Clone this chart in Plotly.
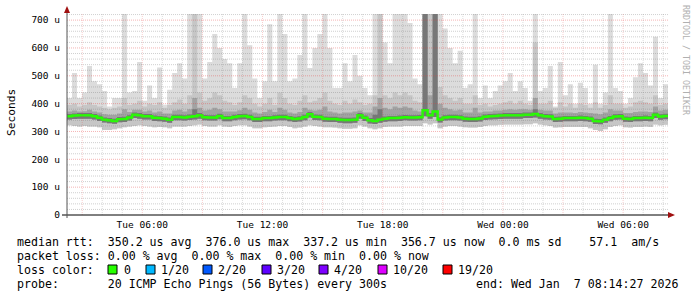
import pandas as pd
import plotly.graph_objects as go

# ---------------- data (microseconds) ----------------
START = "2026-01-06 02:14:27"
END = "2026-01-07 08:14:27"
STEP = "15min"

# max ping (top of lightest smoke)
ping_max = [420,510,420,440,535,480,470,445,390,420,420,800,440,445,550,410,465,420,530,396,450,510,545,490,800,800,800,490,550,650,
            600,560,545,456,545,800,610,490,420,480,685,480,800,650,480,490,575,800,528,600,650,800,600,456,456,545,480,575,500,456,
            430,800,800,620,545,800,800,800,690,490,470,800,800,800,800,670,600,545,590,456,470,800,420,465,420,445,465,480,510,445,
            480,456,410,800,445,456,535,390,550,430,470,400,475,456,400,540,400,440,800,456,445,400,420,495,545,510,465,640,420,470]
# upper quantile (medium smoke)
ping_hi2 = [395,400,390,395,405,395,390,385,380,385,390,420,395,400,410,390,400,395,405,385,395,405,415,400,430,800,440,410,420,440,
            430,410,405,395,405,430,420,400,390,400,420,395,440,420,400,395,410,430,405,410,420,440,410,400,395,410,400,415,405,395,
            400,430,800,430,420,440,430,440,430,410,405,800,800,800,460,430,420,410,420,400,400,430,395,400,390,395,400,405,410,400,
            410,400,395,620,400,400,410,385,405,390,400,385,400,395,385,405,385,395,430,400,400,385,390,405,410,405,400,430,395,400]
# inner upper quantile (dark smoke)
ping_hi3 = [372,375,372,373,378,372,368,362,360,360,365,380,370,378,378,372,375,368,372,365,365,375,378,372,380,420,385,375,378,385,
            380,372,372,372,376,385,378,368,365,370,378,370,385,378,368,365,370,385,378,375,378,390,372,368,365,368,368,372,375,368,
            368,390,420,385,380,390,385,390,385,375,372,800,430,800,400,385,380,375,378,368,368,385,368,372,372,375,375,378,380,378,
            380,380,378,420,378,375,375,365,368,368,368,366,370,368,366,365,362,368,380,375,375,366,366,370,372,372,370,390,375,378]
# core upper quantile (darkest smoke)
ping_hi4 = [363,365,366,366,366,363,357,350,348,346,352,353,358,368,366,363,363,357,356,354,350,360,360,358,361,380,366,359,358,358,
            364,356,356,360,363,364,360,353,353,356,356,358,360,360,356,353,355,360,370,361,360,354,353,353,350,349,349,350,366,357,
            348,360,380,354,356,356,357,359,358,358,359,800,366,800,351,358,360,360,358,354,353,353,355,361,363,364,365,366,366,366,
            366,368,368,380,366,363,362,353,354,356,356,356,357,356,354,346,345,350,356,362,363,354,353,356,356,357,356,368,362,364]
# median rtt
ping_med = [355,357,358,358,358,355,349,342,340,338,344,345,350,360,358,355,355,349,348,346,342,352,352,350,353,355,358,351,350,350,
            356,348,348,352,355,356,352,345,345,348,348,350,352,352,348,345,347,352,362,353,352,346,345,345,342,341,341,342,358,349,
            340,338,342,346,348,348,349,351,350,350,351,376,358,372,343,350,352,352,350,346,345,345,347,353,355,356,357,358,358,358,
            358,360,360,363,358,355,354,345,346,348,348,348,349,348,346,338,337,342,348,354,355,346,345,348,348,349,348,360,354,356]
# inner lower quantile (dark smoke bottom)
ping_lo2 = [343,345,346,346,346,343,338,332,330,328,333,334,339,348,346,343,343,338,337,335,331,340,340,339,341,343,346,340,339,339,
            344,337,337,340,343,344,340,334,334,337,337,339,340,340,337,334,336,340,350,341,340,335,334,334,331,330,330,331,346,338,
            329,327,331,335,337,337,338,340,339,339,340,355,346,352,332,339,340,340,339,335,334,334,336,341,343,344,345,346,346,346,
            346,348,348,350,346,343,342,334,335,337,337,337,338,337,335,327,326,331,337,342,343,335,334,337,337,338,337,348,342,344]
# min ping
ping_min = [322,320,318,320,318,318,315,305,305,308,312,315,318,320,322,320,318,315,316,315,312,318,318,318,320,322,325,320,318,318,
            322,318,316,320,322,322,318,312,312,315,316,318,320,320,316,312,314,318,322,320,318,315,315,314,312,310,310,312,322,318,
            312,308,312,316,318,318,318,320,320,320,320,330,325,330,312,318,320,320,318,315,314,314,316,320,322,322,324,325,325,325,
            325,326,326,330,325,322,320,314,315,316,316,316,316,316,312,305,302,308,316,320,322,315,314,316,316,318,316,325,322,324]

x_tick_vals = ["2026-01-06 06:00", "2026-01-06 12:00", "2026-01-06 18:00", "2026-01-07 00:00", "2026-01-07 06:00"]
x_tick_text = ["Tue 06:00", "Tue 12:00", "Tue 18:00", "Wed 00:00", "Wed 06:00"]
y_tick_vals = [0, 100, 200, 300, 400, 500, 600, 700]
y_tick_text = ["0", "100 u", "200 u", "300 u", "400 u", "500 u", "600 u", "700 u"]

rtt_stats = ["350.2", "376.0", "337.2", "356.7"]
rtt_sd = "0.0"
rtt_amps = "57.1"
loss_stats = ["0.00", "0.00", "0.00", "0.00"]
loss_labels = ["0", "1/20", "2/20", "3/20", "4/20", "10/20", "19/20"]
loss_colors = ["#26ff00", "#00b8ff", "#0059ff", "#5e00ff", "#7e00ff", "#dd00ff", "#ff0000"]
probe_text = "20 ICMP Echo Pings (56 Bytes) every 300s"
end_text = "end: Wed Jan  7 08:14:27 2026"

# ---------------- figure ----------------
W, H = 697, 297
L, R, T, B = 67, 29, 14, 82
PW, PH = W - L - R, H - T - B

def px(xp):
    return (xp - L) / PW

def py(yp):
    return (H - B - yp) / PH

def nb(s):
    return s.replace(" ", "\u00a0")

times = pd.date_range(START, periods=len(ping_med) + 1, freq=STEP)

def ext(a):
    return list(a) + [a[-1]]

fig = go.Figure()
bands = [(ping_min, ping_max, "#dcdcdc"),
         (ping_min, ping_hi2, "#c6c6c6"),
         (ping_lo2, ping_hi3, "#a2a2a2"),
         (ping_lo2, ping_hi4, "#777777")]
for low, high, col in bands:
    fig.add_trace(go.Scatter(x=times, y=ext(low), mode="lines", line=dict(width=0, shape="hv"),
                             hoverinfo="skip", showlegend=False))
    fig.add_trace(go.Scatter(x=times, y=ext(high), mode="lines", line=dict(width=0, shape="hv"),
                             fill="tonexty", fillcolor=col, hoverinfo="skip", showlegend=False))
fig.add_trace(go.Scatter(x=times, y=ext(ping_med), mode="lines",
                         line=dict(width=2.5, shape="hv", color=loss_colors[0]),
                         hoverinfo="skip", showlegend=False))

MAJ = "rgba(230,60,60,0.38)"
MIN_H = "rgba(120,120,120,0.35)"
MIN_V = "rgba(120,120,120,0.25)"
MAJ_V = "rgba(230,60,60,0.25)"
shapes = []
# horizontal grid (above traces like rrdtool)
for v in range(20, 721, 20):
    major = v % 100 == 0
    shapes.append(dict(type="line", xref="paper", yref="y", x0=0, x1=1, y0=v, y1=v, layer="above",
                       line=dict(width=1, dash="1px,1px", color=MAJ if major else MIN_H)))
# vertical grid
for t in pd.date_range("2026-01-06 03:00", "2026-01-07 08:00", freq="1h"):
    major = t.hour % 3 == 0
    shapes.append(dict(type="line", xref="x", yref="paper", x0=t, x1=t, y0=0, y1=1, layer="above",
                       line=dict(width=1, dash="1px,1px", color=MAJ_V if major else MIN_V)))
# axes
shapes.append(dict(type="line", xref="paper", yref="paper", x0=px(62), x1=1, y0=0, y1=0, layer="above",
                   line=dict(width=1, color="#000000")))
shapes.append(dict(type="line", xref="paper", yref="paper", x0=0, x1=0, y0=py(218), y1=py(13), layer="above",
                   line=dict(width=1, color="#555555")))
# arrows
shapes.append(dict(type="path", xref="paper", yref="paper", layer="above",
                   path=f"M {px(668)} {py(212)} L {px(675)} {py(215)} L {px(668)} {py(218)} Z",
                   fillcolor="#a01010", line=dict(width=0)))
shapes.append(dict(type="path", xref="paper", yref="paper", layer="above",
                   path=f"M {px(64)} {py(13)} L {px(67)} {py(6)} L {px(70)} {py(13)} Z",
                   fillcolor="#a01010", line=dict(width=0)))
# loss colour boxes
box_x = [108, 146, 203, 262, 319, 378, 443]
for bx, col in zip(box_x, loss_colors):
    shapes.append(dict(type="rect", xref="paper", yref="paper", layer="above",
                       x0=px(bx), x1=px(bx + 9), y0=py(274), y1=py(265),
                       fillcolor=col, line=dict(width=1, color="#000000")))

MONO = "DejaVu Sans Mono"
FS = 11.6
ann = []

def text(xpix, ypix, s, size=FS, color="#000000", anchor="left", angle=0):
    ann.append(dict(xref="paper", yref="paper", x=px(xpix), y=py(ypix), text=nb(s), showarrow=False,
                    xanchor=anchor, yanchor="middle", textangle=angle, borderpad=0,
                    font=dict(family=MONO, size=size, color=color)))

line1 = (f"median rtt:  {rtt_stats[0]} us avg  {rtt_stats[1]} us max  {rtt_stats[2]} us min  "
         f"{rtt_stats[3]} us now  {rtt_sd} ms sd    {rtt_amps}  am/s")
line2 = f"packet loss: {loss_stats[0]} % avg  {loss_stats[1]} % max  {loss_stats[2]} % min  {loss_stats[3]} % now"
line4 = f"probe:       {probe_text}"
text(16, 241.5, line1)
text(16, 255.5, line2)
text(16, 269.5, "loss color:")
label_x = [123, 160, 217, 276, 333, 392, 457]
for lx, lab in zip(label_x, loss_labels):
    text(lx, 269.5, lab)
text(16, 283.5, line4)
text(475, 283.5, end_text)
text(11, 113, "Seconds", size=11.2, angle=-90, anchor="center")
text(686, 60, "RRDTOOL / TOBI OETIKER", size=8.3, color="#b0b0b0", anchor="center", angle=90)

fig.update_layout(
    width=W, height=H, margin=dict(l=L, r=R, t=T, b=B, pad=0),
    paper_bgcolor="#ffffff", plot_bgcolor="#ffffff",
    shapes=shapes, annotations=ann, showlegend=False,
    xaxis=dict(type="date", range=[START, END], showgrid=False, zeroline=False, showline=False,
               tickmode="array", tickvals=x_tick_vals, ticktext=x_tick_text, ticks="",
               ticklabelstandoff=2,
               tickfont=dict(family=MONO, size=9.5, color="#000000"), fixedrange=True),
    yaxis=dict(range=[0, 722], showgrid=False, zeroline=False, showline=False,
               tickmode="array", tickvals=y_tick_vals, ticktext=y_tick_text, ticks="",
               ticklabelstandoff=6,
               tickfont=dict(family=MONO, size=9.5, color="#000000"), fixedrange=True),
)

fig.write_html("out.html")
